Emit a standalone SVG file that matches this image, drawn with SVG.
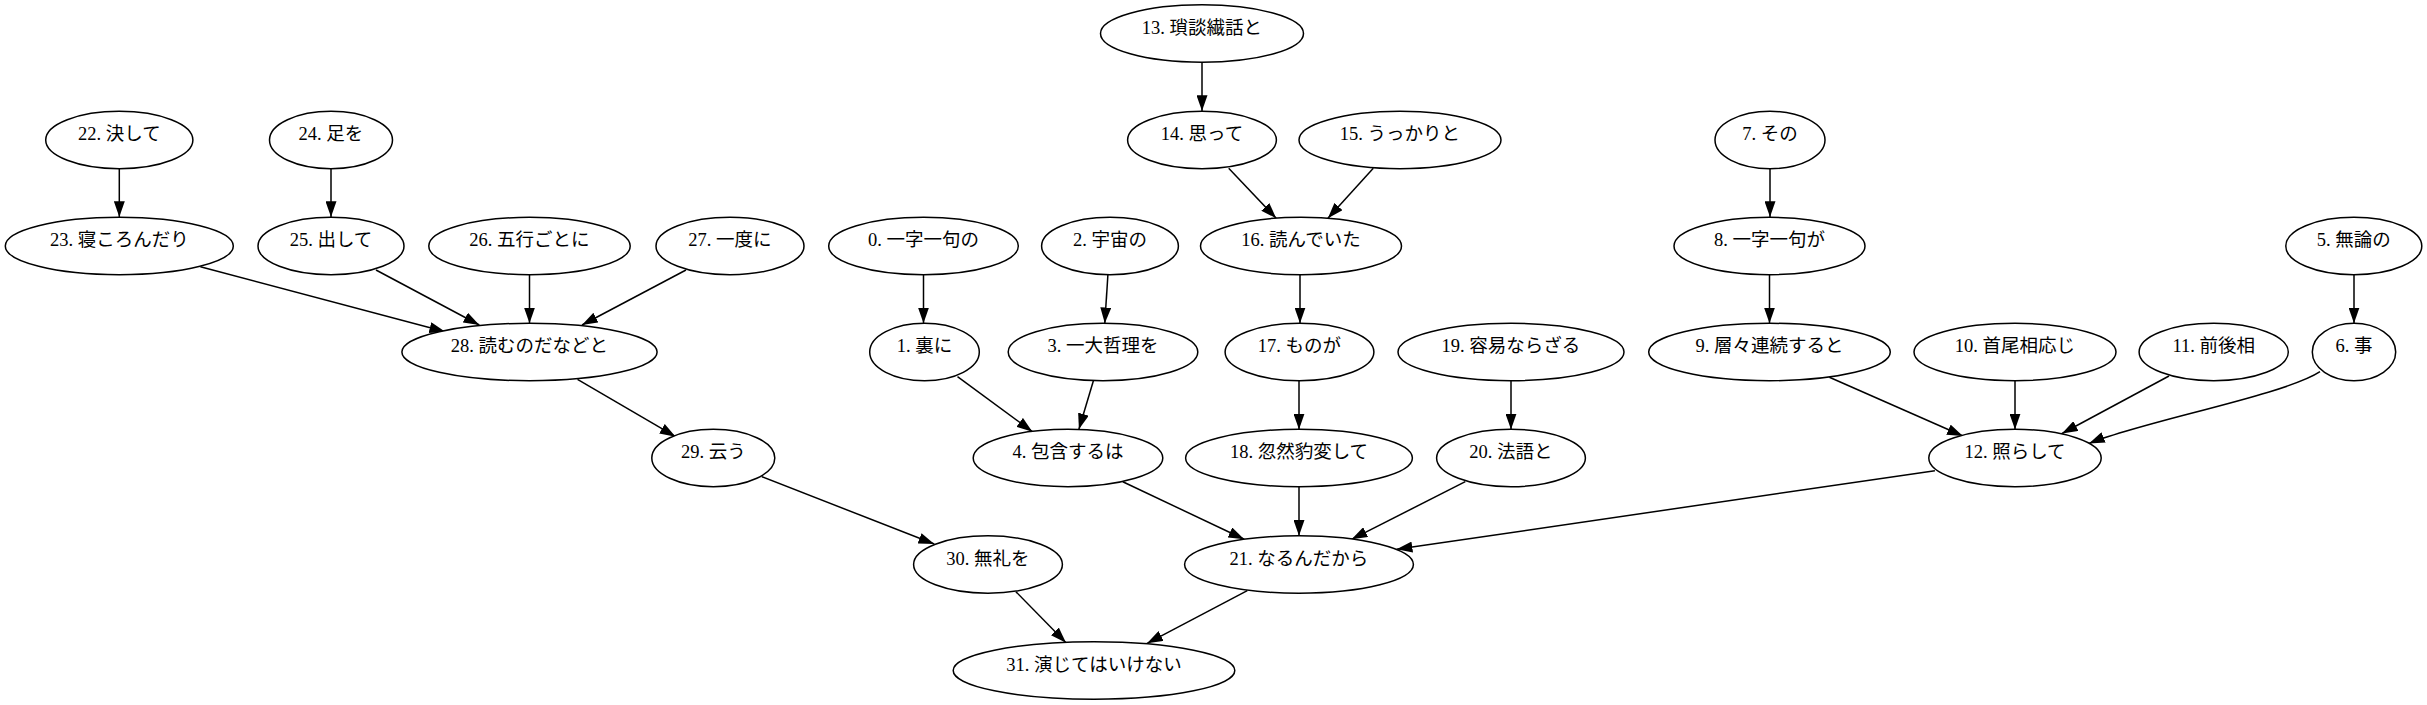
<svg xmlns="http://www.w3.org/2000/svg" width="2427" height="705" viewBox="0 0 2427 705">
<style>
.n ellipse{fill:#fff;stroke:#000;stroke-width:1.5}
.n text{font-family:"Liberation Serif","Noto Sans CJK JP",serif;font-size:18.5px;text-anchor:middle;fill:#000}
#edges path{fill:none;stroke:#000;stroke-width:1.5;marker-end:url(#ah)}
</style>
<defs>
<marker id="ah" markerUnits="userSpaceOnUse" viewBox="0 0 15.8 11" markerWidth="15.8" markerHeight="11" refX="15.8" refY="5.5" orient="auto">
<path d="M0,0 L15.8,5.5 L0,11 z" fill="#000"/>
</marker>
</defs>
<rect width="2427" height="705" fill="#fff"/>
<g id="edges">
<path d="M119.3,168.6 L119.3,217"/>
<path d="M331,168.6 L331,217"/>
<path d="M200.4,266.7 L445.2,331.7"/>
<path d="M376,270 L479.3,325"/>
<path d="M529.5,274.6 L529.5,323.3"/>
<path d="M686,270 L582,325"/>
<path d="M577.5,379.3 L675.6,436.7"/>
<path d="M761.9,476.7 L934.3,544"/>
<path d="M1202,62 L1202,111"/>
<path d="M1228.7,168.3 L1276.2,218.3"/>
<path d="M1373.3,168.3 L1327.9,218.3"/>
<path d="M923.5,274.6 L923.5,323.3"/>
<path d="M1107.9,274.6 L1104.8,323.3"/>
<path d="M1300,274.6 L1300,323.3"/>
<path d="M957.5,376.7 L1032.4,431.7"/>
<path d="M1093.4,380.7 L1078.9,429.3"/>
<path d="M1299,380.8 L1299,429.5"/>
<path d="M1511,380.8 L1511,429.5"/>
<path d="M1122.8,481.7 L1244.2,539.3"/>
<path d="M1299,487 L1299,535.8"/>
<path d="M1465.3,481.7 L1351.6,539.3"/>
<path d="M1934.9,470.7 L1396.6,549.3"/>
<path d="M1015.9,591.7 L1066,642.7"/>
<path d="M1247.3,590.7 L1147.1,643.3"/>
<path d="M1770,168.6 L1770,217"/>
<path d="M1769.5,274.6 L1769.5,323.3"/>
<path d="M2354,274.6 L2354,323.3"/>
<path d="M1829.4,377.3 L1962.9,436"/>
<path d="M2015,380.8 L2015,429.5"/>
<path d="M2169,376 L2062,433.5"/>
<path d="M2320,371.7 C2285,395 2140,422 2089,443.5"/>
</g>
<g id="node0" class="n"><ellipse cx="923.5" cy="246" rx="94.8" ry="28.7"/><text x="923.5" y="246">0. 一字一句の</text></g>
<g id="node1" class="n"><ellipse cx="924.5" cy="352" rx="54.8" ry="28.7"/><text x="924.5" y="352">1. 裏に</text></g>
<g id="node2" class="n"><ellipse cx="1110" cy="246" rx="68.4" ry="28.7"/><text x="1110" y="246">2. 宇宙の</text></g>
<g id="node3" class="n"><ellipse cx="1103" cy="352" rx="94.8" ry="28.7"/><text x="1103" y="352">3. 一大哲理を</text></g>
<g id="node4" class="n"><ellipse cx="1068" cy="458" rx="94.8" ry="28.7"/><text x="1068" y="458">4. 包含するは</text></g>
<g id="node5" class="n"><ellipse cx="2353.8" cy="246" rx="68" ry="28.7"/><text x="2353.8" y="246">5. 無論の</text></g>
<g id="node6" class="n"><ellipse cx="2354" cy="352" rx="41.7" ry="28.7"/><text x="2354" y="352">6. 事</text></g>
<g id="node7" class="n"><ellipse cx="1770" cy="140" rx="55" ry="28.7"/><text x="1770" y="140">7. その</text></g>
<g id="node8" class="n"><ellipse cx="1769.5" cy="246" rx="95.5" ry="28.7"/><text x="1769.5" y="246">8. 一字一句が</text></g>
<g id="node9" class="n"><ellipse cx="1769.5" cy="352" rx="120.8" ry="28.7"/><text x="1769.5" y="352">9. 層々連続すると</text></g>
<g id="node10" class="n"><ellipse cx="2015" cy="352" rx="101" ry="28.7"/><text x="2015" y="352">10. 首尾相応じ</text></g>
<g id="node11" class="n"><ellipse cx="2213.7" cy="352" rx="74.6" ry="28.7"/><text x="2213.7" y="352">11. 前後相</text></g>
<g id="node12" class="n"><ellipse cx="2015" cy="458" rx="86.2" ry="28.7"/><text x="2015" y="458">12. 照らして</text></g>
<g id="node13" class="n"><ellipse cx="1202" cy="33.5" rx="101.5" ry="28.7"/><text x="1202" y="33.5">13. 瑣談繊話と</text></g>
<g id="node14" class="n"><ellipse cx="1202" cy="140" rx="74.4" ry="28.7"/><text x="1202" y="140">14. 思って</text></g>
<g id="node15" class="n"><ellipse cx="1400" cy="140" rx="101" ry="28.7"/><text x="1400" y="140">15. うっかりと</text></g>
<g id="node16" class="n"><ellipse cx="1301" cy="246" rx="100.5" ry="28.7"/><text x="1301" y="246">16. 読んでいた</text></g>
<g id="node17" class="n"><ellipse cx="1299.5" cy="352" rx="74.4" ry="28.7"/><text x="1299.5" y="352">17. ものが</text></g>
<g id="node18" class="n"><ellipse cx="1299" cy="458" rx="113.4" ry="28.7"/><text x="1299" y="458">18. 忽然豹変して</text></g>
<g id="node19" class="n"><ellipse cx="1511" cy="352" rx="113" ry="28.7"/><text x="1511" y="352">19. 容易ならざる</text></g>
<g id="node20" class="n"><ellipse cx="1511" cy="458" rx="74.4" ry="28.7"/><text x="1511" y="458">20. 法語と</text></g>
<g id="node21" class="n"><ellipse cx="1299" cy="564.5" rx="114.4" ry="28.7"/><text x="1299" y="564.5">21. なるんだから</text></g>
<g id="node22" class="n"><ellipse cx="119.3" cy="140" rx="73.6" ry="28.7"/><text x="119.3" y="140">22. 決して</text></g>
<g id="node23" class="n"><ellipse cx="119.3" cy="246" rx="114" ry="28.7"/><text x="119.3" y="246">23. 寝ころんだり</text></g>
<g id="node24" class="n"><ellipse cx="331" cy="140" rx="61.5" ry="28.7"/><text x="331" y="140">24. 足を</text></g>
<g id="node25" class="n"><ellipse cx="331" cy="246" rx="73" ry="28.7"/><text x="331" y="246">25. 出して</text></g>
<g id="node26" class="n"><ellipse cx="529.5" cy="246" rx="100.7" ry="28.7"/><text x="529.5" y="246">26. 五行ごとに</text></g>
<g id="node27" class="n"><ellipse cx="730" cy="246" rx="74" ry="28.7"/><text x="730" y="246">27. 一度に</text></g>
<g id="node28" class="n"><ellipse cx="529.5" cy="352" rx="127.6" ry="28.7"/><text x="529.5" y="352">28. 読むのだなどと</text></g>
<g id="node29" class="n"><ellipse cx="713.3" cy="458" rx="61.5" ry="28.7"/><text x="713.3" y="458">29. 云う</text></g>
<g id="node30" class="n"><ellipse cx="988" cy="564.5" rx="74.4" ry="28.7"/><text x="988" y="564.5">30. 無礼を</text></g>
<g id="node31" class="n"><ellipse cx="1094" cy="670.5" rx="140.8" ry="28.7"/><text x="1094" y="670.5">31. 演じてはいけない</text></g>
</svg>
